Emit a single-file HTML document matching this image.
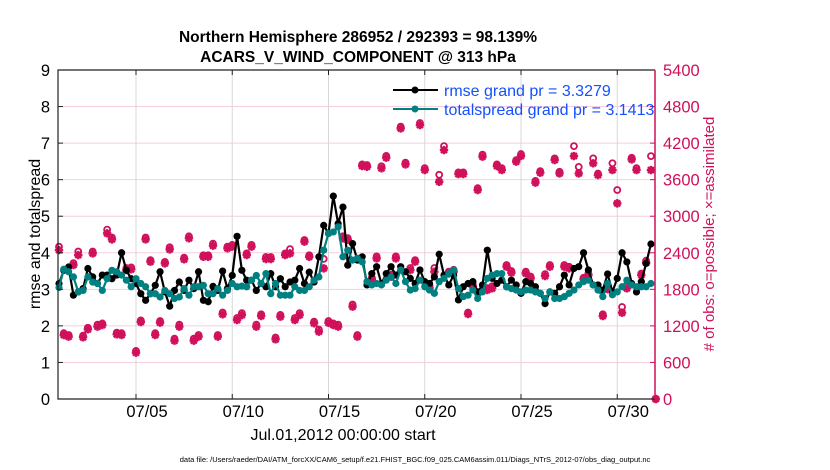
<!DOCTYPE html>
<html><head><meta charset="utf-8"><style>
body{margin:0;background:#fff;}
svg{display:block;font-family:"Liberation Sans",sans-serif;}
</style></head><body>
<svg id="chart" width="830" height="470" viewBox="0 0 830 470">
<text x="358" y="42" text-anchor="middle" font-size="15.5" font-weight="bold">Northern Hemisphere 286952 / 292393 = 98.139%</text>
<text x="358" y="62" text-anchor="middle" font-size="15.5" font-weight="bold">ACARS_V_WIND_COMPONENT @ 313 hPa</text>
<g id="grid"></g>
<g id="obs"></g>
<g id="lines"></g>
<g id="axes"></g>
<g>
<g>
<line x1="393" y1="90" x2="438" y2="90" stroke="#000" stroke-width="2"/>
<circle cx="415" cy="90" r="3.5" fill="#000"/>
<text x="444" y="96" font-size="16" fill="#1450ff">rmse grand pr = 3.3279</text></g>
<g>
<line x1="393" y1="109" x2="438" y2="109" stroke="#008080" stroke-width="2"/>
<circle cx="415" cy="109" r="3.5" fill="#008080"/>
<text x="444" y="115" font-size="16" fill="#1450ff">totalspread grand pr = 3.1413</text></g>
</g>
<text transform="translate(40,234) rotate(-90)" text-anchor="middle" font-size="16">rmse and totalspread</text>
<text transform="translate(714,234) rotate(-90)" text-anchor="middle" font-size="15" fill="#d0105a"># of obs: o=possible; ×=assimilated</text>
<text x="343" y="440" text-anchor="middle" font-size="16">Jul.01,2012 00:00:00 start</text>
<text x="415" y="462" text-anchor="middle" font-size="7.5">data file: /Users/raeder/DAI/ATM_forcXX/CAM6_setup/f.e21.FHIST_BGC.f09_025.CAM6assim.011/Diags_NTrS_2012-07/obs_diag_output.nc</text>
</svg>
<script>
const xTickDays = [4, 9, 14, 19, 24, 29];
const xTickLabels = ["07/05", "07/10", "07/15", "07/20", "07/25", "07/30"];
const leftTicks = [0,1,2,3,4,5,6,7,8,9];
const rightTicks = [0,600,1200,1800,2400,3000,3600,4200,4800,5400];
const rmse = [3.16,3.52,3.61,2.84,2.93,3.02,3.57,3.34,3.16,3.39,3.39,3.29,3.39,4.00,3.52,3.29,3.16,2.88,2.70,2.88,3.11,3.48,2.93,2.54,2.97,3.20,2.97,3.25,3.02,3.48,2.70,
2.66,3.08,2.97,3.50,3.02,3.38,4.45,3.52,3.25,3.25,2.97,3.16,3.07,3.43,3.07,3.29,3.07,3.20,3.25,3.57,3.16,3.47,3.20,3.89,4.75,4.53,5.55,4.80,5.25,3.66,4.25,3.80,
3.89,3.12,3.43,3.62,3.16,3.43,3.62,3.39,3.62,3.48,3.30,3.16,3.53,3.21,3.16,3.34,3.96,3.39,3.12,3.39,2.71,3.07,3.16,3.21,2.93,3.12,4.07,3.30,3.16,3.25,3.07,
3.25,3.12,2.89,3.21,3.16,3.07,2.89,2.61,2.93,2.89,3.07,3.39,3.12,3.57,3.62,4.00,3.53,3.12,3.12,2.98,3.42,2.93,3.30,4.00,3.75,3.16,2.93,3.21,3.71,4.24];
const spread = [3.05,3.55,3.48,3.34,2.93,2.97,3.34,3.20,3.16,2.97,3.29,3.52,3.48,3.39,3.25,3.07,3.29,3.16,3.07,2.88,2.88,2.79,2.97,2.88,2.75,2.79,3.02,2.84,3.07,3.07,3.11,
2.88,2.88,3.02,2.84,2.97,3.16,3.07,3.09,3.07,3.25,3.38,3.16,3.43,2.88,3.16,2.84,2.84,2.84,3.07,2.97,2.97,3.07,3.25,3.34,4.07,4.53,4.57,4.71,3.89,4.07,3.80,3.85,
3.75,3.21,3.12,3.16,3.12,3.25,3.34,3.16,3.53,3.21,2.98,3.02,3.25,3.07,2.98,2.89,3.21,3.30,3.43,3.53,3.02,2.80,2.84,2.98,2.75,2.93,3.30,3.39,3.43,3.43,3.07,
3.02,2.98,2.93,2.98,2.98,2.93,2.89,2.75,2.93,2.75,2.75,2.80,2.89,2.98,3.12,3.21,3.25,3.12,2.98,2.80,3.16,2.85,2.93,3.07,3.25,3.12,3.07,3.07,3.07,3.16];
const assimilated = [2445,1050,1023,2199,2363,1012,1143,2390,1187,1214,2719,2620,1061,1050,2117,2128,760,1264,2620,2253,1050,1253,2226,2456,957,1187,2292,2637,957,1023,2335,
2335,2516,1023,1390,2473,2500,1296,1378,2363,2500,1187,1362,2297,2297,979,1351,2363,2390,1296,1378,2582,2335,1242,1105,2144,1250,1214,1187,2637,2610,1515,1023,
3824,3812,1964,2308,3786,3960,2007,2308,4442,3851,2117,2253,4496,3758,1816,2090,3566,4086,2062,2090,3692,3692,1395,1843,3430,3977,1789,1816,3824,3758,2171,
2073,3895,3988,2062,1980,3550,3714,2018,2171,3922,3703,2171,2144,3988,3703,1964,2035,3868,3676,1362,1800,3758,3211,1416,1816,3933,3758,2035,2237,3758,0];
const possible = [2500,1080,1050,2230,2420,1040,1170,2420,1220,1240,2780,2650,1090,1080,2150,2160,790,1290,2650,2280,1080,1280,2250,2490,990,1220,2320,2670,990,1050,2360,
2360,2550,1050,1420,2500,2530,1330,1410,2390,2530,1220,1390,2330,2330,1010,1380,2390,2460,1330,1410,2610,2360,1270,1140,2300,1280,1240,1220,2670,2640,1550,1050,
3850,3840,1990,2340,3820,3990,2040,2340,4470,3880,2150,2280,4530,3790,1850,2150,3680,4150,2090,2120,3720,3720,1420,1870,3460,4010,1820,1850,3850,3790,2200,
2100,3920,4020,2090,2010,3580,3740,2050,2200,3950,3730,2200,2170,4150,3810,1990,2060,3950,3700,1390,1830,3870,3430,1510,1850,3960,3790,2060,2270,3987,0];

const L=58,R=655,T=70,B=399, PINK="#d0105a";
const ns="http://www.w3.org/2000/svg";
function xDay(d){return 59+19.25*d;}
function yL(v){return B-(B-T)*v/9;}
function yR(c){return B-(B-T)*c/5400;}
function mk(tag,attrs,parent){const e=document.createElementNS(ns,tag);for(const k in attrs)e.setAttribute(k,attrs[k]);parent.appendChild(e);return e;}
const grid=document.getElementById('grid'),axes=document.getElementById('axes'),obs=document.getElementById('obs'),lines=document.getElementById('lines');

leftTicks.forEach(v=>{
  if(v>0&&v<9){const g=mk('line',{x1:L,x2:R,y1:yL(v),y2:yL(v),stroke:"#f5cfe0","stroke-width":1},grid);
  
  }
  const t=mk('text',{x:L-8,y:yL(v)+6,"text-anchor":"end","font-size":16.5},axes);t.textContent=v;
  
  
  mk('line',{x1:L,x2:L+5,y1:yL(v),y2:yL(v),stroke:"#222"},axes);
});
rightTicks.forEach(c=>{
  const t=mk('text',{x:R+8,y:yR(c)+6,"font-size":16.5,fill:PINK},axes);t.textContent=c;
  
  
  mk('line',{x1:R-5,x2:R,y1:yR(c),y2:yR(c),stroke:PINK},axes);
});
xTickDays.forEach((d,i)=>{
  const g=mk('line',{x1:xDay(d),x2:xDay(d),y1:T,y2:B,stroke:"#d8d8d8","stroke-width":1},grid);
  
  
  mk('line',{x1:xDay(d),x2:xDay(d),y1:B,y2:B-5,stroke:"#222"},axes);
  mk('line',{x1:xDay(d),x2:xDay(d),y1:T,y2:T+5,stroke:"#222"},axes);
  const t=mk('text',{x:xDay(d)+11,y:417,"text-anchor":"middle","font-size":16.5},axes);t.textContent=xTickLabels[i];
  
  
});
mk('path',{d:`M${R},${T} L${L},${T} L${L},${B} L${R},${B}`,fill:"none",stroke:"#222","stroke-width":1.2},axes);
mk('line',{x1:R,x2:R,y1:T,y2:B,stroke:PINK,"stroke-width":1.5},axes);

assimilated.forEach((c,i)=>{
  const d=i<124?i*0.25:31;
  const x=xDay(d);
  const yp=yR(possible[i]);
  const o=mk('circle',{cx:x,cy:yp,r:3,fill:"none",stroke:PINK,"stroke-width":1.8},obs);
  
  
  const y=yR(c);
  const s=mk('path',{d:`M${x-4.2},${y}h8.4M${x},${y-4.2}v8.4M${x-3},${y-3}l6,6M${x-3},${y+3}l6,-6`,stroke:PINK,"stroke-width":2.4},obs);
  
  
});
function series(arr,color,name){
  const pts=arr.map((v,i)=>[xDay(i*0.25),yL(v)]);
  const p=mk('polyline',{points:pts.map(q=>q.join(',')).join(' '),fill:"none",stroke:color,"stroke-width":2.2,"stroke-linejoin":"round"},lines);
  
  
  pts.forEach(q=>{
    const c=mk('circle',{cx:q[0],cy:q[1],r:3.6,fill:color},lines);
    
    
  });
}
series(rmse,"#000","rmse");
series(spread,"#008080","totalspread");
</script>
</body></html>
